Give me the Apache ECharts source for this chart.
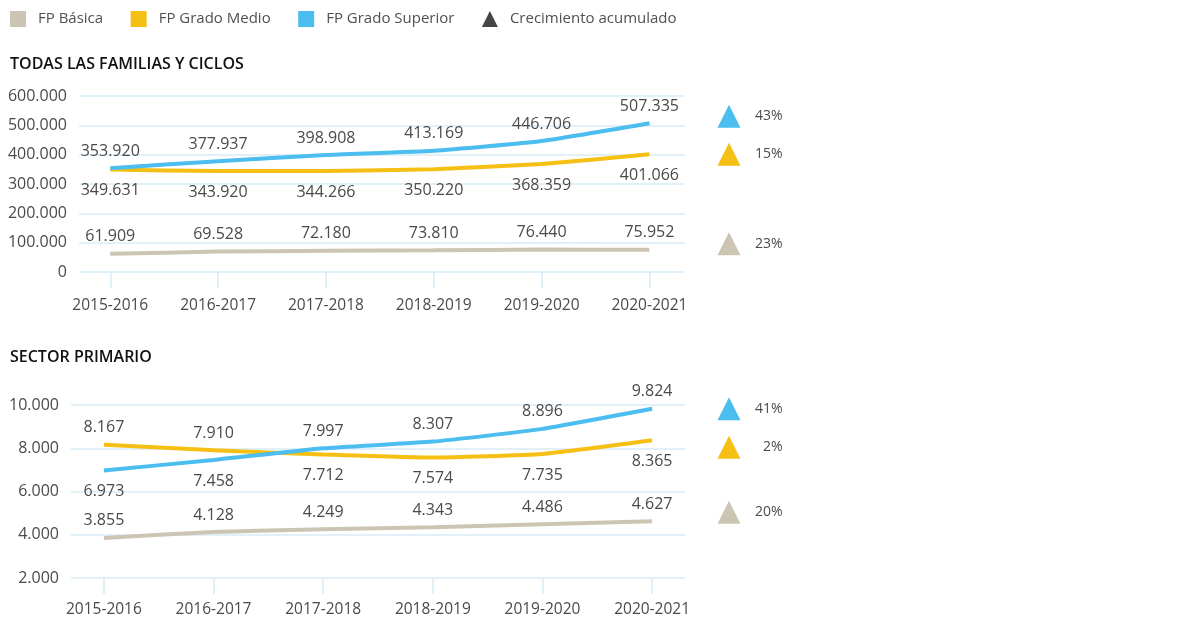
<!DOCTYPE html>
<html>
<head>
<meta charset="utf-8">
<title>FP matriculados</title>
<script src="https://cdn.jsdelivr.net/npm/echarts@6/dist/echarts.min.js"></script>
<style>
  html, body { margin: 0; padding: 0; background: #fff; }
  #chart { width: 1180px; height: 630px; }
</style>
</head>
<body>
<div id="chart"></div>
<script>
// datos
const categories = ['2015-2016', '2016-2017', '2017-2018', '2018-2019', '2019-2020', '2020-2021'];
const seriesNames = ['FP Básica', 'FP Grado Medio', 'FP Grado Superior'];

const totalBasica = [61909, 69528, 72180, 73810, 76440, 75952];
const totalMedio = [349631, 343920, 344266, 350220, 368359, 401066];
const totalSuperior = [353920, 377937, 398908, 413169, 446706, 507335];

const primBasica = [3855, 4128, 4249, 4343, 4486, 4627];
const primMedio = [8167, 7910, 7712, 7574, 7735, 8365];
const primSuperior = [6973, 7458, 7997, 8307, 8896, 9824];

// crecimiento acumulado (%): Basica, Medio, Superior
const growthTotal = [23, 15, 43];
const growthPrimario = [20, 2, 41];

// rangos de los ejes
const totalAxis = { min: 0, max: 600000, interval: 100000 };
const primAxis = { min: 2000, max: 10000, interval: 2000 };

const colors = ['#cdc5b3', '#f5bf13', '#4bbdef'];
const textColor = '#4a4a4a';
const gridColor = '#d8ebf8';
const font = 'Open Sans';

// pequeño ajuste vertical de los triangulos respecto al ultimo valor
const triNudgeTotal = [-6, 0, -7];
const triNudgePrim = [-9, 7, 0];

function fmt(v) {
    return String(v).replace(/\B(?=(\d{3})+(?!\d))/g, '.');
}

function lineSeries(idx, basica, medio, superior) {
    const lists = [basica, medio, superior];
    return lists.map(function (list, s) {
        return {
            name: seriesNames[s],
            type: 'line',
            xAxisIndex: idx,
            yAxisIndex: idx,
            smooth: 0.15,
            showSymbol: true,
            symbol: 'circle',
            symbolSize: 0,
            lineStyle: { width: 4, color: colors[s] },
            itemStyle: { color: colors[s] },
            data: list.map(function (v, i) {
                let pos = 'top';
                if (s === 1) pos = v > superior[i] ? 'top' : 'bottom';
                if (s === 2) pos = v >= medio[i] ? 'top' : 'bottom';
                return {
                    value: [i, v],
                    label: { position: pos, distance: pos === 'top' ? 9 : 13 }
                };
            }),
            label: {
                show: true,
                fontFamily: font,
                fontSize: 16,
                color: textColor,
                formatter: function (p) { return fmt(p.value[1]); }
            },
            emphasis: { disabled: true },
            z: 2 + s
        };
    });
}

function growthSeries(idx, basica, medio, superior, growth, nudge) {
    const last = [basica, medio, superior].map(function (l) { return l[l.length - 1]; });
    return {
        name: 'Crecimiento acumulado',
        type: 'scatter',
        xAxisIndex: idx,
        yAxisIndex: idx,
        symbol: 'triangle',
        symbolSize: 23,
        itemStyle: { color: '#454545', opacity: 1 },
        data: last.map(function (v, s) {
            return {
                value: [0, v, growth[s]],
                symbolOffset: [0, nudge[s]],
                itemStyle: { color: colors[s], opacity: 1 }
            };
        }),
        label: {
            show: true,
            position: 'right',
            distance: 42,
            align: 'right',
            fontFamily: font,
            fontSize: 14,
            color: textColor,
            formatter: function (p) { return p.value[2] + '%'; }
        },
        emphasis: { disabled: true }
    };
}

function mainX(gridIndex, min, max, margin) {
    return {
        type: 'value',
        gridIndex: gridIndex,
        min: min,
        max: max,
        axisLine: { show: false },
        splitLine: { show: false },
        axisTick: {
            show: true,
            length: 16,
            customValues: categories.map(function (c, i) { return i; }),
            lineStyle: { color: gridColor, width: 1.5 }
        },
        axisLabel: {
            customValues: categories.map(function (c, i) { return i; }),
            margin: margin,
            fontFamily: font,
            fontSize: 15.5,
            color: textColor,
            formatter: function (v) { return categories[v]; }
        }
    };
}

function mainY(gridIndex, range) {
    return {
        type: 'value',
        gridIndex: gridIndex,
        min: range.min,
        max: range.max,
        interval: range.interval,
        axisLine: { show: false },
        axisTick: { show: false },
        splitLine: { lineStyle: { color: gridColor, width: 1.5 } },
        axisLabel: {
            margin: 12,
            fontFamily: font,
            fontSize: 16,
            color: textColor,
            formatter: fmt
        }
    };
}

function sideX(gridIndex) {
    return { type: 'category', gridIndex: gridIndex, data: ['c'], show: false };
}

function sideY(gridIndex, range) {
    return { type: 'value', gridIndex: gridIndex, min: range.min, max: range.max, show: false };
}

const myChart = echarts.init(document.getElementById('chart'));

const option = {
    animation: false,
    backgroundColor: '#fff',
    textStyle: { fontFamily: font },
    title: [
        {
            text: 'TODAS LAS FAMILIAS Y CICLOS',
            left: 10, top: 56, padding: 0,
            textStyle: { fontFamily: font, fontSize: 16, fontWeight: 600, color: '#111' }
        },
        {
            text: 'SECTOR PRIMARIO',
            left: 10, top: 349, padding: 0,
            textStyle: { fontFamily: font, fontSize: 16, fontWeight: 600, color: '#111' }
        }
    ],
    legend: {
        left: 10,
        top: 11,
        padding: 0,
        itemWidth: 16,
        itemHeight: 16,
        itemGap: 27.5,
        selectedMode: false,
        textStyle: { fontFamily: font, fontSize: 15, color: '#505050', padding: [0, 0, 0, 7] },
        data: [
            { name: seriesNames[0], icon: 'rect' },
            { name: seriesNames[1], icon: 'rect' },
            { name: seriesNames[2], icon: 'rect' },
            { name: 'Crecimiento acumulado', icon: 'triangle', itemStyle: { color: '#454545', opacity: 1 } }
        ]
    },
    grid: [
        { left: 79, right: 495, top: 96, height: 176 },
        { left: 718, width: 22, top: 96, height: 176 },
        { left: 71, right: 495, top: 405, height: 173 },
        { left: 718, width: 22, top: 405, height: 173 }
    ],
    xAxis: [
        mainX(0, -0.29, 5.33, 26),
        sideX(1),
        mainX(2, -0.3, 5.3, 24),
        sideX(3)
    ],
    yAxis: [
        mainY(0, totalAxis),
        sideY(1, totalAxis),
        mainY(2, primAxis),
        sideY(3, primAxis)
    ],
    series: []
        .concat(lineSeries(0, totalBasica, totalMedio, totalSuperior))
        .concat([growthSeries(1, totalBasica, totalMedio, totalSuperior, growthTotal, triNudgeTotal)])
        .concat(lineSeries(2, primBasica, primMedio, primSuperior))
        .concat([growthSeries(3, primBasica, primMedio, primSuperior, growthPrimario, triNudgePrim)])
};

myChart.setOption(option);
</script>
</body>
</html>
